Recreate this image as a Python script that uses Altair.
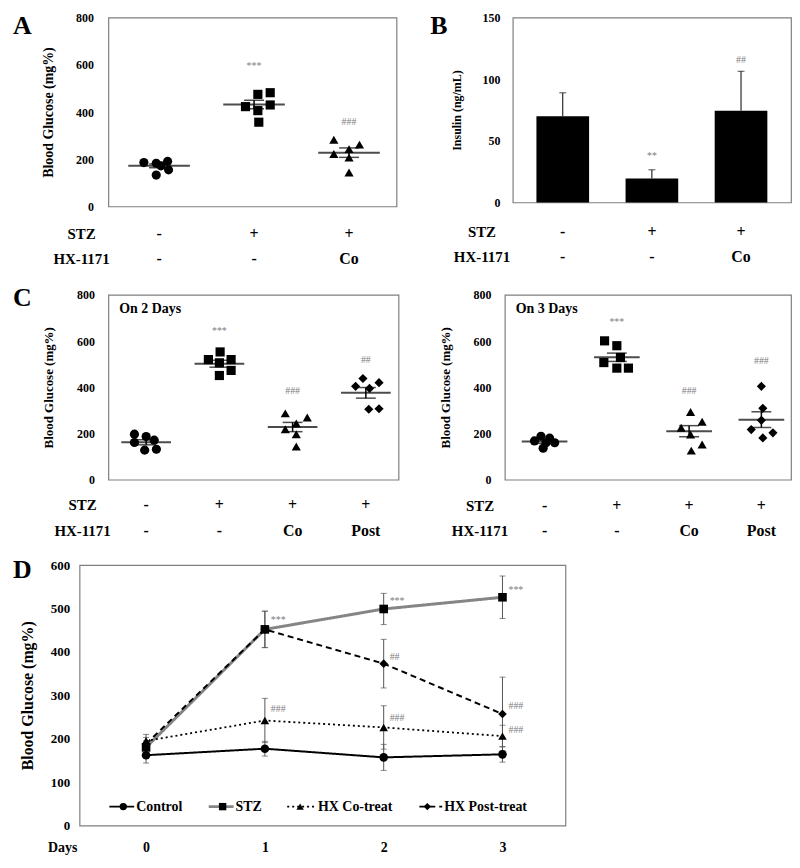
import altair as alt
import pandas as pd

FONT = "Liberation Serif"
NOTE_GRAY = "#7d7d7d"
FRAME_GRAY = "#7f7f7f"

GROUP_KEYS = ["Control", "STZ", "Co", "Post"]
SHAPES = ["circle", "square", "triangle-up", "diamond"]

# ---------------- Panel A : blood glucose ----------------
a_stz = ["-", "+", "+"]
a_hx = ["-", "-", "Co"]
a_control = [186, 183, 191, 155, 133, 172]
a_control_dx = [-0.16, -0.03, 0.09, 0.10, -0.03, 0.02]
a_stz_vals = [475, 482, 423, 430, 406, 357]
a_stz_dx = [0.04, 0.17, -0.09, 0.17, 0.04, 0.05]
a_co = [283, 262, 243, 222, 207, 144]
a_co_dx = [-0.16, 0.11, 0.00, -0.16, 0.00, 0.00]
a_mean = [172, 432, 228]
a_sem = [8, 18, 20]
a_notes = ["", "***", "###"]
a_note_y = [0, 593, 356]

# ---------------- Panel B : insulin ----------------
b_stz = ["-", "+", "+"]
b_hx = ["-", "-", "Co"]
b_insulin = [70, 19.5, 74.5]
b_err = [19, 7, 32]
b_notes = ["", "**", "##"]
b_note_y = [0, 38, 116]

# ---------------- Panel C : day 2 / day 3 ----------------
c_stz = ["-", "+", "+", "+"]
c_hx = ["-", "-", "Co", "Post"]

c2_control = [197, 187, 171, 161, 128, 132]
c2_control_dx = [-0.16, 0.00, 0.11, -0.16, -0.02, 0.14]
c2_stz_vals = [553, 520, 520, 506, 473, 451]
c2_stz_dx = [0.01, -0.15, 0.16, 0.00, 0.16, 0.00]
c2_co = [287, 269, 243, 218, 197, 144]
c2_co_dx = [-0.10, 0.20, 0.05, -0.10, 0.05, 0.05]
c2_post = [438, 420, 404, 395, 305, 307]
c2_post_dx = [-0.04, 0.18, -0.14, 0.05, 0.04, 0.18]
c2_mean = [162, 502, 228, 376]
c2_sem = [11, 15, 20, 23]
c2_notes = ["", "***", "###", "##"]
c2_note_y = [0, 645, 384, 517]

c3_control = [188, 180, 168, 160, 136, 160]
c3_control_dx = [-0.05, 0.07, -0.14, 0.14, -0.02, 0.02]
c3_stz_vals = [601, 580, 507, 483, 483, 529]
c3_stz_dx = [-0.17, 0.00, -0.18, 0.16, 0.00, 0.05]
c3_co = [293, 251, 225, 196, 152, 126]
c3_co_dx = [0.02, 0.18, -0.11, 0.02, 0.18, 0.03]
c3_post = [404, 309, 217, 203, 181, 257]
c3_post_dx = [0.00, 0.02, -0.14, 0.16, 0.02, 0.00]
c3_mean = [165, 530, 210, 260]
c3_sem = [8, 18, 24, 34]
c3_notes = ["", "***", "###", "###"]
c3_note_y = [0, 681, 384, 514]

# ---------------- Panel D : time course ----------------
days = [0, 1, 2, 3]
d_series = ["Control", "STZ", "HX Co-treat", "HX Post-treat"]
d_control = [162, 177, 157, 164]
d_control_err = [18, 17, 30, 18]
d_stz = [180, 452, 499, 526]
d_stz_err = [15, 42, 36, 49]
d_co = [195, 242, 226, 206]
d_co_err = [15, 51, 50, 25]
d_post = [188, 452, 373, 257]
d_post_err = [15, 42, 56, 85]
d_note_day = [1, 2, 3, 2, 3, 1, 2, 3]
d_note_y = [474, 517, 542, 388, 276, 269, 248, 220]
d_note_text = ["***", "***", "***", "##", "###", "###", "###", "###"]


def text_layer(label, x, y, size, align="center", baseline="middle", weight="bold",
               color="black", opacity=1):
    return alt.Chart(pd.DataFrame({"label": [label]})).mark_text(
        font=FONT, fontSize=size, fontWeight=weight, align=align, baseline=baseline,
        color=color, opacity=opacity
    ).encode(x=alt.value(x), y=alt.value(y), text="label:N")


def y_axis(step, ymax, label_pad, title_pad, title_size, label_size=12):
    return alt.Axis(values=list(range(0, ymax + 1, step)), ticks=False, domain=False, grid=False,
                    labelPadding=label_pad, titlePadding=title_pad, labelFontSize=label_size,
                    titleFontSize=title_size)


def scatter_panel(letter, stz, hx, vals, dxs, means, sems, notes, note_y, width, height, xdom,
                  title_pad, label_pad, title_size, mean_len, row_y1, row_y2, rowlab_x,
                  letter_x, letter_y, subtitle, letter_opacity=1):
    n = len(stz)
    rows = []
    for i in range(n):
        for v, dx in zip(vals[i], dxs[i]):
            rows.append({"group": GROUP_KEYS[i], "xpos": i + dx, "value": v})
    pts = pd.DataFrame(rows)
    summ = pd.DataFrame({
        "idx": list(range(n)), "mean": means,
        "lo": [m - s for m, s in zip(means, sems)],
        "hi": [m + s for m, s in zip(means, sems)],
        "stz": stz, "hx": hx, "note": notes, "ny": note_y,
    })
    nts = summ[summ["note"] != ""]
    xs = alt.Scale(domain=xdom, nice=False, zero=False)
    ys = alt.Scale(domain=[0, 800], nice=False)
    ax = y_axis(200, 800, label_pad, title_pad, title_size)

    def X(f):
        return alt.X(f"{f}:Q", scale=xs, axis=None)

    def Y(f):
        return alt.Y(f"{f}:Q", scale=ys, axis=ax, title="Blood Glucose (mg%)")

    points = alt.Chart(pts).mark_point(filled=True, color="black", size=85, opacity=1).encode(
        x=X("xpos"), y=Y("value"),
        shape=alt.Shape("group:N", scale=alt.Scale(domain=GROUP_KEYS, range=SHAPES), legend=None),
    )
    mean_line = alt.Chart(summ).mark_tick(orient="horizontal", size=mean_len, thickness=2,
                                          color="black").encode(x=X("idx"), y=Y("mean"))
    sem_rule = alt.Chart(summ).mark_rule(color="black", strokeWidth=1.5).encode(
        x=X("idx"), y=Y("lo"), y2=alt.Y2("hi:Q"))
    cap_lo = alt.Chart(summ).mark_tick(orient="horizontal", size=20, thickness=1.5,
                                       color="black").encode(x=X("idx"), y=Y("lo"))
    cap_hi = alt.Chart(summ).mark_tick(orient="horizontal", size=20, thickness=1.5,
                                       color="black").encode(x=X("idx"), y=Y("hi"))
    note = alt.Chart(nts).mark_text(font=FONT, fontSize=10, color=NOTE_GRAY).encode(
        x=X("idx"), y=Y("ny"), text="note:N")
    r1 = alt.Chart(summ).mark_text(font=FONT, fontSize=16, fontWeight="bold", color="black").encode(
        x=X("idx"), y=alt.value(row_y1), text="stz:N")
    r2 = alt.Chart(summ).mark_text(font=FONT, fontSize=16, fontWeight="bold", color="black").encode(
        x=X("idx"), y=alt.value(row_y2), text="hx:N")
    layers = [sem_rule, cap_lo, cap_hi, mean_line, points, note, r1, r2,
              text_layer("STZ", rowlab_x, row_y1, 15),
              text_layer("HX-1171", rowlab_x, row_y2, 15),
              text_layer(letter, letter_x, letter_y, 26, align="left", baseline="top",
                         opacity=letter_opacity),
              text_layer(subtitle, 11, 14, 14, align="left")]
    return alt.layer(*layers).properties(width=width, height=height)


def bar_panel():
    width, height = 280, 186
    df = pd.DataFrame({
        "idx": [0, 1, 2], "val": b_insulin,
        "top": [v + e for v, e in zip(b_insulin, b_err)],
        "stz": b_stz, "hx": b_hx, "note": b_notes, "ny": b_note_y,
    })
    nts = df[df["note"] != ""]
    xs = alt.Scale(domain=[-0.505, 2.505], nice=False, zero=False)
    ys = alt.Scale(domain=[0, 150], nice=False)
    ax = y_axis(50, 150, 13, 19, 12)

    def X(f):
        return alt.X(f"{f}:Q", scale=xs, axis=None)

    def Y(f):
        return alt.Y(f"{f}:Q", scale=ys, axis=ax, title="Insulin (ng/mL)")

    bars = alt.Chart(df).mark_bar(color="black", size=53, orient="vertical").encode(
        x=X("idx"), y=Y("val"))
    err = alt.Chart(df).mark_rule(color="black", strokeWidth=1).encode(
        x=X("idx"), y=Y("val"), y2=alt.Y2("top:Q"))
    cap = alt.Chart(df).mark_tick(orient="horizontal", size=7, thickness=1, color="black").encode(
        x=X("idx"), y=Y("top"))
    note = alt.Chart(nts).mark_text(font=FONT, fontSize=10, color=NOTE_GRAY).encode(
        x=X("idx"), y=Y("ny"), text="note:N")
    r1 = alt.Chart(df).mark_text(font=FONT, fontSize=16, fontWeight="bold", color="black").encode(
        x=X("idx"), y=alt.value(height + 30), text="stz:N")
    r2 = alt.Chart(df).mark_text(font=FONT, fontSize=16, fontWeight="bold", color="black").encode(
        x=X("idx"), y=alt.value(height + 55), text="hx:N")
    return alt.layer(
        err, cap, bars, note, r1, r2,
        text_layer("STZ", -31, height + 30, 15),
        text_layer("HX-1171", -31, height + 55, 15),
        text_layer("B", -83, -5, 26, align="left", baseline="top"),
    ).properties(width=width, height=height)


def time_panel():
    width, height = 489, 262
    xs = alt.Scale(domain=[-0.56, 3.53], nice=False, zero=False)
    ys = alt.Scale(domain=[0, 600], nice=False)
    yax = y_axis(100, 600, 10, 15, 16, label_size=13)
    xax = alt.Axis(values=days, format="d", ticks=False, domain=False, grid=False, labelAngle=0,
                   labelPadding=15, labelFontSize=14)

    def X(f):
        return alt.X(f"{f}:Q", scale=xs, axis=xax, title=None)

    def Y(f):
        return alt.Y(f"{f}:Q", scale=ys, axis=yax, title="Blood Glucose (mg%)")

    vals = [d_control, d_stz, d_co, d_post]
    errs = [d_control_err, d_stz_err, d_co_err, d_post_err]
    colors = ["black", "#858585", "black", "black"]
    widths = [2, 3, 1.8, 2]
    dashes = [[1, 0], [1, 0], [2, 3], [6, 4]]
    legend_pos = [(30, 55, 44, 57), (130, 155, 144, 157), (209, 239, 222, 240), (342, 365, 350, 367)]
    legend_y = height - 19

    lines, bars, pts, leg = [], [], [], []
    for k, name in enumerate(d_series):
        df = pd.DataFrame({"day": days, "v": vals[k],
                           "lo": [v - e for v, e in zip(vals[k], errs[k])],
                           "hi": [v + e for v, e in zip(vals[k], errs[k])]})
        lines.append(alt.Chart(df).mark_line(color=colors[k], strokeWidth=widths[k],
                                             strokeDash=dashes[k]).encode(x=X("day"), y=Y("v")))
        bars.append(alt.Chart(df).mark_rule(color="#555555", strokeWidth=1).encode(
            x=X("day"), y=Y("lo"), y2=alt.Y2("hi:Q")))
        for f in ("lo", "hi"):
            bars.append(alt.Chart(df).mark_tick(orient="horizontal", size=6, thickness=1,
                                                color="#555555").encode(x=X("day"), y=Y(f)))
        pts.append(alt.Chart(df).mark_point(filled=True, opacity=1, color="black", size=75,
                                            shape=SHAPES[k]).encode(x=X("day"), y=Y("v")))
        x0, x1, mx, tx = legend_pos[k]
        ldf = pd.DataFrame({"label": [name]})
        leg.append(alt.Chart(ldf).mark_rule(color=colors[k], strokeWidth=widths[k],
                                            strokeDash=dashes[k]).encode(
            x=alt.value(x0), x2=alt.value(x1), y=alt.value(legend_y)))
        leg.append(alt.Chart(ldf).mark_point(filled=True, opacity=1, color="black", size=55,
                                             shape=SHAPES[k]).encode(
            x=alt.value(mx), y=alt.value(legend_y)))
        leg.append(alt.Chart(ldf).mark_text(font=FONT, fontSize=14, fontWeight="bold", align="left",
                                            color="black").encode(
            x=alt.value(tx), y=alt.value(legend_y), text="label:N"))

    ndf = pd.DataFrame({"day": d_note_day, "y": d_note_y, "t": d_note_text})
    notes = alt.Chart(ndf).mark_text(font=FONT, fontSize=10, color=NOTE_GRAY, align="left",
                                     dx=6).encode(x=X("day"), y=Y("y"), text="t:N")
    return alt.layer(
        *lines, *bars, *pts, notes, *leg,
        text_layer("Days", -17, height + 23, 14),
        text_layer("D", -67, -8, 26, align="left", baseline="top"),
    ).properties(width=width, height=height)


def spacer():
    # an empty 1-px cell that starts every row, so that rows line up on their left edges
    return alt.Chart(pd.DataFrame({"v": [0]})).mark_point(opacity=0, size=1).encode(
        x=alt.value(0), y=alt.value(0)
    ).properties(width=1, height=1, view=alt.ViewBackground(stroke="transparent"))


panel_a = scatter_panel(
    "A", a_stz, a_hx, [a_control, a_stz_vals, a_co], [a_control_dx, a_stz_dx, a_co_dx],
    a_mean, a_sem, a_notes, a_note_y, 290, 190, [-0.534, 2.50],
    title_pad=20, label_pad=15, title_size=14, mean_len=62,
    row_y1=190 + 28, row_y2=190 + 53, rowlab_x=-27, letter_x=-96, letter_y=-5, subtitle="")

panel_c2 = scatter_panel(
    "C", c_stz, c_hx, [c2_control, c2_stz_vals, c2_co, c2_post],
    [c2_control_dx, c2_stz_dx, c2_co_dx, c2_post_dx],
    c2_mean, c2_sem, c2_notes, c2_note_y, 292, 186, [-0.516, 3.446],
    title_pad=21, label_pad=14, title_size=13, mean_len=50,
    row_y1=186 + 25, row_y2=186 + 52, rowlab_x=-26, letter_x=-96, letter_y=-10,
    subtitle="On 2 Days")

# the day-3 panel carries an invisible letter so both C panels share the same top edge
panel_c3 = scatter_panel(
    "C", c_stz, c_hx, [c3_control, c3_stz_vals, c3_co, c3_post],
    [c3_control_dx, c3_stz_dx, c3_co_dx, c3_post_dx],
    c3_mean, c3_sem, c3_notes, c3_note_y, 288, 186, [-0.55, 3.41],
    title_pad=21, label_pad=14, title_size=13, mean_len=46,
    row_y1=186 + 26, row_y2=186 + 52, rowlab_x=-25, letter_x=-80, letter_y=-10,
    subtitle="On 3 Days", letter_opacity=0)

panel_b = bar_panel()
panel_d = time_panel()

row1 = alt.hconcat(spacer(), alt.hconcat(panel_a, panel_b, spacing=32), spacing=0)
row2 = alt.hconcat(spacer(), alt.hconcat(panel_c2, panel_c3, spacing=25), spacing=0)
row3 = alt.hconcat(spacer(), panel_d, spacing=0)

chart = alt.vconcat(row1, row2, row3, spacing=16).properties(
    padding=0, background="white"
).configure_view(
    stroke=FRAME_GRAY, strokeWidth=1.2
).configure_axis(
    labelFont=FONT, titleFont=FONT, labelFontWeight="bold", titleFontWeight="bold",
    labelColor="black", titleColor="black"
)

chart.save("out.html", embed_options={"renderer": "svg", "actions": False})
